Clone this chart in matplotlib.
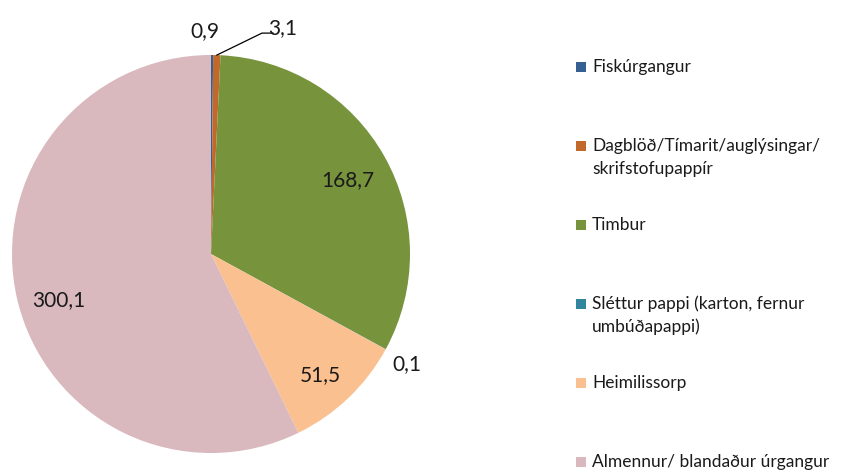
import numpy as np
import matplotlib.pyplot as plt
from matplotlib.patches import Rectangle

plt.rcParams['font.family'] = ['Lato', 'DejaVu Sans']

# data
categories = ["Fiskúrgangur",
              "Dagblöð/Tímarit/auglýsingar/\nskrifstofupappír",
              "Timbur",
              "Sléttur pappi (karton, fernur\numbúðapappi)",
              "Heimilissorp",
              "Almennur/ blandaður úrgangur"]
values = [0.9, 3.1, 168.7, 0.1, 51.5, 300.1]
value_labels = ["0,9", "3,1", "168,7", "0,1", "51,5", "300,1"]

colors = ["#376092", "#C0692A", "#77933C", "#31859C", "#FAC090", "#D9B8BE"]
# label placement (radius factor, angle tweak in degrees)
label_r = [1.12, 1.19, 0.78, 1.13, 0.82, 0.80]
label_da = [1.8, -16.0, -0.9, -0.7, -1.4, 3.7]

W, H = 847, 472
fig = plt.figure(figsize=(W / 100, H / 100), dpi=100)
cx, cy, rad = 211, 254, 199
ax = fig.add_axes([(cx - rad) / W, (H - cy - rad) / H, 2 * rad / W, 2 * rad / H])

wedges, _ = ax.pie(values, colors=colors, startangle=90, counterclock=False,
                   radius=1.0, wedgeprops=dict(linewidth=0))
ax.set_xlim(-1, 1)
ax.set_ylim(-1, 1)
ax.set_aspect('equal')
ax.axis('off')

for i, w in enumerate(wedges):
    mid = np.deg2rad((w.theta1 + w.theta2) / 2 + label_da[i])
    x, y = label_r[i] * np.cos(mid), label_r[i] * np.sin(mid)
    ax.text(x, y, value_labels[i], ha='center', va='center', fontsize=15,
            color='#1a1a1a', clip_on=False)
    if i == 1:
        m0 = np.deg2rad((w.theta1 + w.theta2) / 2)
        px, py = np.cos(m0), np.sin(m0)
        ax.plot([px, 0.256, 0.312], [py, 1.11, 1.11], color='black',
                lw=0.9, clip_on=False)

# legend, drawn by hand: one row every 79 px, lines 23 px apart
for i, name in enumerate(categories):
    base = 72 + 79 * i
    fig.add_artist(Rectangle((576 / W, 1 - base / H), 10 / W, 10 / H,
                             transform=fig.transFigure, color=colors[i], lw=0))
    for j, line in enumerate(name.split("\n")):
        fig.text(592 / W, 1 - (base + 23 * j) / H, line, ha='left',
                 va='baseline', fontsize=12.5, color='#1a1a1a')

fig.savefig("out.png", dpi=100)
